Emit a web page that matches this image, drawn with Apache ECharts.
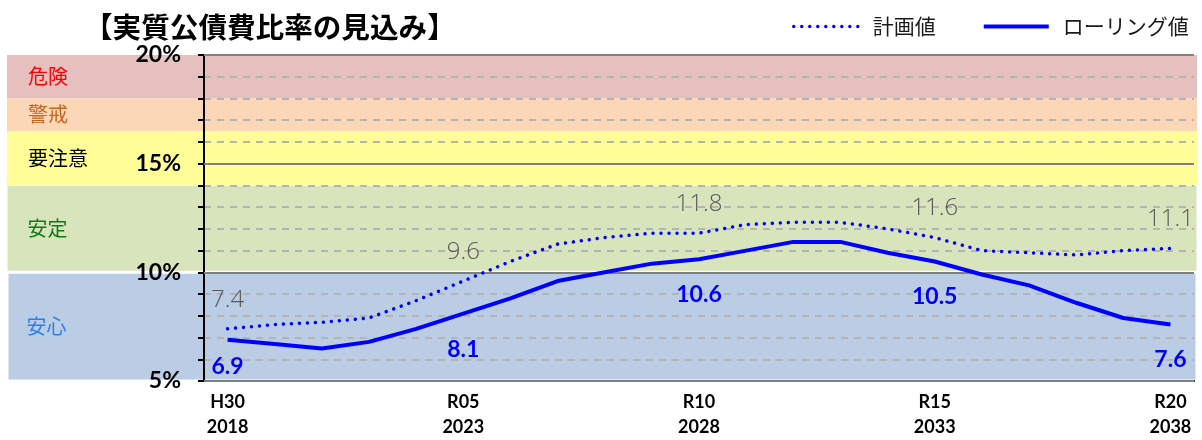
<!DOCTYPE html>
<html>
<head>
<meta charset="utf-8">
<script src="https://cdn.jsdelivr.net/npm/echarts@6/dist/echarts.min.js"></script>
<style>
  html, body { margin: 0; padding: 0; background: #fff; }
  #chart { width: 1202px; height: 440px; }
</style>
</head>
<body>
<div id="chart"></div>
<script>
// Fiscal years (Gregorian) and Japanese era labels
const years = ['2018','2019','2020','2021','2022','2023','2024','2025','2026','2027','2028',
               '2029','2030','2031','2032','2033','2034','2035','2036','2037','2038'];
const eraLabels = ['H30','R01','R02','R03','R04','R05','R06','R07','R08','R09','R10',
                   'R11','R12','R13','R14','R15','R16','R17','R18','R19','R20'];

// Real debt service ratio (%)
const planned = [7.4, 7.6, 7.7, 7.9, 8.7, 9.6, 10.5, 11.3, 11.6, 11.8, 11.8,
                 12.2, 12.3, 12.3, 12.0, 11.6, 11.0, 10.9, 10.8, 11.0, 11.1];
const rolling = [6.9, 6.7, 6.5, 6.8, 7.4, 8.1, 8.8, 9.6, 10.0, 10.4, 10.6,
                 11.0, 11.4, 11.4, 10.9, 10.5, 9.9, 9.4, 8.6, 7.9, 7.6];

// Years whose values are printed on the chart
const labelYears = ['2018', '2023', '2028', '2033', '2038'];

// Assessment bands (%)
const bandNames = ['危険', '警戒', '要注意', '安定', '安心'];
const bandFrom  = [18, 16.5, 14, 10, 5];
const bandTo    = [20, 18, 16.5, 14, 10];

// Y axis range and tick labels
const yMin = 5, yMax = 20;
const yTickValues = [5, 10, 15, 20];

const seriesNames = ['計画値', 'ローリング値'];

// ---- styling ----
const bandFill = ['#E6BFBF', '#FBD6B7', '#FFFD98', '#D8E4BC', '#BACDE4'];
const bandText = ['#FF0000', '#C8641E', '#000000', '#117A11', '#2F7FE8'];
const bandBorder = [0, 0, 0, 1, 3];
const BLUE = '#0000FF';
const JP = '"Noto Sans CJK JP", "Noto Sans", sans-serif';
const NUM = 'Lato, "Noto Sans", sans-serif';
const dotted = { color: BLUE, width: 3.5, type: [0.01, 8], cap: 'round' };
const solid = { color: BLUE, width: 4, type: 'solid' };

const categories = years.map((y, i) => eraLabels[i] + '\n' + y);
const shown = new Set(labelYears);

const plannedData = planned.map((v, i) =>
  shown.has(years[i]) ? { value: v, label: { show: true } } : v);
const rollingData = rolling.map((v, i) =>
  shown.has(years[i]) ? { value: v, label: { show: true, distance: i === 0 ? 15 : 24 } } : v);

const bandAreas = bandNames.map((n, i) => [
  { name: n, xAxis: 0, yAxis: bandFrom[i],
    itemStyle: { color: bandFill[i], borderColor: '#fff', borderWidth: bandBorder[i] },
    label: { color: bandText[i] } },
  { xAxis: 1, yAxis: bandTo[i] }
]);

const chart = echarts.init(document.getElementById('chart'), null, { renderer: 'canvas' });

chart.setOption({
  animation: false,
  backgroundColor: '#fff',
  title: {
    text: '【実質公債費比率の見込み】',
    left: 79, top: 8,
    textStyle: { fontFamily: JP, fontWeight: 'bold', fontSize: 28.6, color: '#000' }
  },
  legend: {
    left: 787, top: 11,
    itemWidth: 65, itemHeight: 24, itemGap: 46,
    textStyle: { fontFamily: JP, fontSize: 21, color: '#1a1a1a', padding: [0, 0, 0, 9] },
    data: [
      { name: seriesNames[0], lineStyle: dotted, itemStyle: { opacity: 0 } },
      { name: seriesNames[1], lineStyle: solid, itemStyle: { opacity: 0 } }
    ]
  },
  grid: [
    { left: 204, right: 8, top: 55, bottom: 59 },
    { left: 7, right: 5, top: 55, bottom: 59 }
  ],
  xAxis: [
    {
      type: 'category', gridIndex: 0, data: categories, boundaryGap: true, z: 5,
      axisLine: { lineStyle: { color: '#000', width: 2 } },
      axisTick: { interval: 4, length: 8, lineStyle: { color: '#000', width: 2 } },
      axisLabel: { interval: 4, fontFamily: NUM, fontWeight: 'bold', fontSize: 18,
                   color: '#000', lineHeight: 25, margin: 9 },
      splitLine: { show: false }
    },
    { type: 'value', gridIndex: 1, min: 0, max: 1, show: false }
  ],
  yAxis: [
    {
      type: 'value', gridIndex: 0, min: yMin, max: yMax, interval: 1, z: 5,
      axisLine: { show: true, lineStyle: { color: '#000', width: 2 } },
      axisTick: { show: true, length: 6, lineStyle: { color: '#000', width: 2 } },
      axisLabel: { show: false },
      splitLine: { show: true, lineStyle: { color: '#B4B4B4', width: 2, type: [7, 6] } }
    },
    {
      type: 'value', gridIndex: 0, min: yMin, max: yMax, interval: 5, position: 'left', z: 6,
      axisLine: { show: false }, axisTick: { show: false },
      axisLabel: {
        margin: 23, fontFamily: NUM, fontWeight: 'bold', fontSize: 23, color: '#000',
        formatter: v => yTickValues.includes(v) ? v + '%' : ''
      },
      splitLine: { show: true, lineStyle: { color: '#808080', width: 2 } }
    },
    { type: 'value', gridIndex: 1, min: yMin, max: yMax, show: false }
  ],
  series: [
    {
      // coloured assessment bands with their names at the left
      type: 'line', xAxisIndex: 1, yAxisIndex: 2, data: [], silent: true, z: 1,
      markArea: {
        silent: true,
        label: { position: 'insideLeft', distance: 21, fontFamily: JP, fontSize: 20 },
        data: bandAreas
      }
    },
    {
      name: seriesNames[0], type: 'line', xAxisIndex: 0, yAxisIndex: 0, z: 10,
      data: plannedData, symbol: 'circle', symbolSize: 0, showSymbol: true, showAllSymbol: true,
      lineStyle: dotted,
      itemStyle: { color: BLUE },
      label: { show: false, position: 'top', distance: 17,
               formatter: p => p.value.toFixed(1),
               fontFamily: '"Open Sans", sans-serif', fontWeight: 300, fontSize: 24, color: '#595959' }
    },
    {
      name: seriesNames[1], type: 'line', xAxisIndex: 0, yAxisIndex: 0, z: 11,
      data: rollingData, symbol: 'circle', symbolSize: 0, showSymbol: true, showAllSymbol: true,
      lineStyle: solid,
      itemStyle: { color: BLUE },
      label: { show: false, position: 'bottom', distance: 24,
               formatter: p => p.value.toFixed(1),
               fontFamily: NUM, fontWeight: 'bold', fontSize: 23, color: BLUE }
    }
  ]
});
</script>
</body>
</html>
